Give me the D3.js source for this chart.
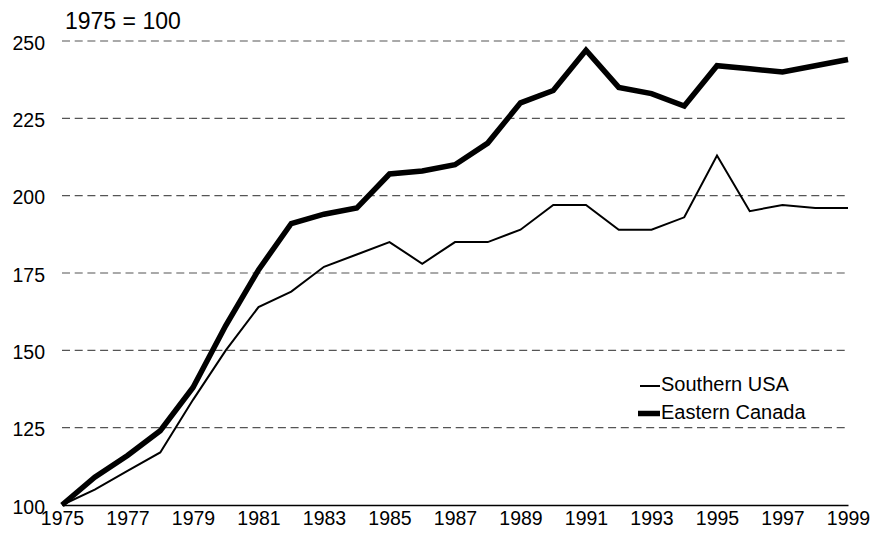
<!DOCTYPE html>
<html>
<head>
<meta charset="utf-8">
<script src="https://cdn.jsdelivr.net/npm/d3@7"></script>
<style>
  body { margin: 0; background: #fff; }
  text { font-family: "Liberation Sans", Arial, sans-serif; fill: #000; }
</style>
</head>
<body>
<svg id="chart" width="882" height="538"></svg>
<script>
var years = d3.range(1975, 2000);
var southernUSA = [100, 105, 111, 117, 134, 150, 164, 169, 177, 181, 185, 178, 185, 185, 189, 197, 197, 189, 189, 193, 213, 195, 197, 196, 196];
var easternCanada = [100, 109, 116, 124, 138, 158, 176, 191, 194, 196, 207, 208, 210, 217, 230, 234, 247, 235, 233, 229, 242, 241, 240, 242, 244];
var yTicks = [100, 125, 150, 175, 200, 225, 250];
var xTicks = d3.range(1975, 2000, 2);
var seriesNames = ["Southern USA", "Eastern Canada"];

var svg = d3.select("#chart"),
    margin = {top: 41, right: 34, bottom: 33, left: 62},
    width = +svg.attr("width") - margin.left - margin.right,
    height = +svg.attr("height") - margin.top - margin.bottom;

var x = d3.scaleLinear().domain([1975, 1999]).range([0, width]);
var y = d3.scaleLinear().domain([100, 250]).range([height, 0]);

var g = svg.append("g")
    .attr("transform", "translate(" + margin.left + "," + margin.top + ")");

// dashed gridlines
g.selectAll(".grid")
    .data(yTicks.filter(function(d) { return d > 100; }))
  .enter().append("line")
    .attr("class", "grid")
    .attr("x1", 0)
    .attr("x2", width)
    .attr("y1", function(d) { return y(d); })
    .attr("y2", function(d) { return y(d); })
    .attr("stroke", "#555")
    .attr("stroke-width", 1.2)
    .attr("stroke-dasharray", "8,4.7");

// y axis labels
var yAxis = d3.axisLeft(y).tickValues(yTicks).tickSize(0).tickPadding(17);
g.append("g")
    .call(yAxis)
    .call(function(s) { s.select(".domain").remove(); })
    .selectAll("text")
    .attr("dy", "0.42em")
    .attr("font-size", 19.5)
    .attr("font-family", "Liberation Sans, Arial, sans-serif");

// x axis
var xAxis = d3.axisBottom(x).tickValues(xTicks).tickFormat(d3.format("d")).tickSize(0).tickPadding(6);
g.append("g")
    .attr("transform", "translate(0," + height + ")")
    .call(xAxis)
    .call(function(s) { s.select(".domain").attr("stroke", "#000").attr("stroke-width", 1.5); })
    .selectAll("text")
    .attr("font-size", 19.5)
    .attr("font-family", "Liberation Sans, Arial, sans-serif");

var line = d3.line()
    .x(function(d, i) { return x(years[i]); })
    .y(function(d) { return y(d); });

g.append("path")
    .datum(southernUSA)
    .attr("fill", "none")
    .attr("stroke", "#000")
    .attr("stroke-width", 2)
    .attr("stroke-linejoin", "miter")
    .attr("d", line);

g.append("path")
    .datum(easternCanada)
    .attr("fill", "none")
    .attr("stroke", "#000")
    .attr("stroke-width", 5.5)
    .attr("stroke-linejoin", "miter")
    .attr("d", line);

// title
svg.append("text")
    .attr("x", 65)
    .attr("y", 29)
    .attr("font-size", 23)
    .text("1975 = 100");

// legend
var legend = svg.append("g").attr("transform", "translate(638,386)");
var widths = [2, 5.5];
seriesNames.forEach(function(name, i) {
    var row = legend.append("g").attr("transform", "translate(0," + (i * 27.5) + ")");
    row.append("line")
        .attr("x1", i ? 0 : 2).attr("x2", 22)
        .attr("y1", 0).attr("y2", 0)
        .attr("stroke", "#000")
        .attr("stroke-width", widths[i]);
    row.append("text")
        .attr("x", 23)
        .attr("y", 5)
        .attr("font-size", 20)
        .text(name);
});
</script>
</body>
</html>
